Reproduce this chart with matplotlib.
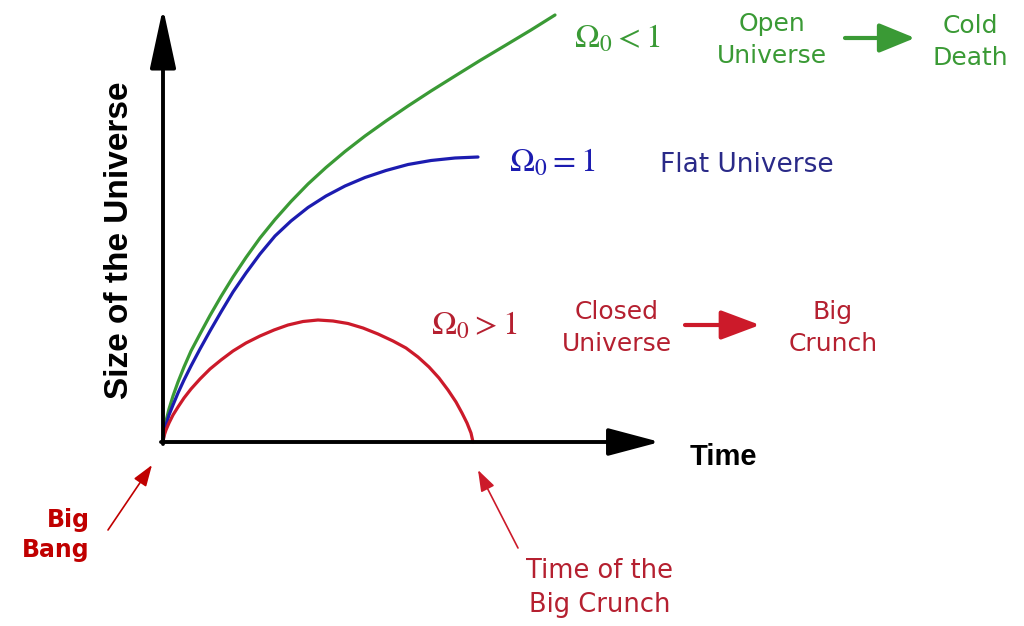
import numpy as np
import matplotlib
matplotlib.use('Agg')
import matplotlib.pyplot as plt

plt.rcParams['mathtext.fontset'] = 'stix'

green_t = [0, 1, 3, 6, 10, 15, 21, 28, 37, 47, 58, 70, 83, 97, 112, 128, 145, 163, 182, 202,
           223, 245, 268, 292, 317, 343, 368, 392]
green_s = [0, 10, 21, 33, 46, 60, 75, 91, 108, 126.5, 145.5, 165, 184.5, 204, 222.5, 240.5, 258,
           274.5, 290.5, 306, 321, 336, 351, 366, 381.5, 397, 412, 427]

blue_t = [0, 1, 3, 6, 10, 15, 21, 28, 37, 47, 58, 70, 83, 97, 112, 128, 145, 163, 182, 202,
          223, 245, 268, 292, 315]
blue_s = [0, 8, 17, 27, 37, 49, 62, 76, 93, 111, 130, 150, 169, 188, 206, 221, 234.5, 246, 256,
          264.5, 271.5, 277.5, 281.5, 284, 285]

red_t = [0, 1, 3, 6, 10, 15, 21, 28, 37, 47, 58, 70, 83, 97, 111, 125, 140, 155, 170, 185,
         200, 215, 230, 243, 255, 266, 276, 285, 293, 299, 304, 308, 310]
red_s = [0, 6, 12, 19, 27, 35, 44, 53, 63, 73, 82, 91, 99, 106, 112, 117, 120.5, 122, 121, 118.5,
         114, 108, 101, 94, 85, 75, 64, 52, 40, 29, 19, 9, 0]

green = '#3a9a35'
blue = '#1c1cb0'
red = '#cc1a2a'
red_txt = '#b52030'

fig = plt.figure(figsize=(10.24, 6.26), dpi=100)
ax = fig.add_axes([0, 0, 1, 1])
ax.set_xlim(-163, 861)
ax.set_ylim(-184, 442)
ax.axis('off')

ax.plot(green_t, green_s, color=green, lw=2.3, solid_capstyle='round', solid_joinstyle='round')
ax.plot(blue_t, blue_s, color=blue, lw=2.3, solid_capstyle='round', solid_joinstyle='round')
ax.plot(red_t, red_s, color=red, lw=2.3, solid_capstyle='round', solid_joinstyle='round')

# axes arrows
ax.annotate('', xy=(0, 434), xytext=(0, -2),
            arrowprops=dict(arrowstyle='-|>,head_length=3.7,head_width=0.8',
                            mutation_scale=10, lw=2.8, color='black',
                            shrinkA=0, shrinkB=0))
ax.annotate('', xy=(497, 0), xytext=(-2, 0),
            arrowprops=dict(arrowstyle='-|>,head_length=3.2,head_width=0.85',
                            mutation_scale=10, lw=2.8, color='black',
                            shrinkA=0, shrinkB=0))

ax.text(527, -15, 'Time', fontsize=21, fontweight='bold', family='Liberation Sans',
        ha='left', va='center')
ax.text(-43, 202, 'Size of the Universe', fontsize=24, fontweight='bold',
        family='Liberation Sans', rotation=90, ha='center', va='center')

# open universe
ax.text(411, 404, r'$\Omega_0 < 1$', fontsize=24, color=green, ha='left', va='center')
ax.text(609, 402, 'Open\nUniverse', fontsize=18, color=green, ha='center', va='center',
        linespacing=1.45)
ax.annotate('', xy=(752, 404), xytext=(682, 404),
            arrowprops=dict(arrowstyle='-|>,head_length=2.2,head_width=0.9',
                            mutation_scale=10, lw=3, color=green,
                            shrinkA=0, shrinkB=0))
ax.text(807, 400, 'Cold\nDeath', fontsize=18, color=green, ha='center', va='center',
        linespacing=1.45)

# flat universe
ax.text(346, 280, r'$\Omega_0 = 1$', fontsize=24, color=blue, ha='left', va='center')
ax.text(497, 277, 'Flat Universe', fontsize=19, color='#2a2a88', ha='left', va='center')

# closed universe
ax.text(268, 117, r'$\Omega_0 > 1$', fontsize=24, color=red_txt, ha='left', va='center')
ax.text(454, 114, 'Closed\nUniverse', fontsize=18, color=red_txt, ha='center', va='center',
        linespacing=1.45)
ax.annotate('', xy=(597, 117), xytext=(522, 117),
            arrowprops=dict(arrowstyle='-|>,head_length=2.4,head_width=0.9',
                            mutation_scale=10, lw=3, color=red,
                            shrinkA=0, shrinkB=0))
ax.text(670, 114, 'Big\nCrunch', fontsize=18, color=red_txt, ha='center', va='center',
        linespacing=1.45)

# big bang / big crunch pointers
ax.text(-73, -93, 'Big\nBang', fontsize=17, fontweight='bold', color='#c00000',
        ha='right', va='center', multialignment='right', linespacing=1.35)
ax.annotate('', xy=(-11, -23), xytext=(-55, -88),
            arrowprops=dict(arrowstyle='-|>,head_length=1.3,head_width=0.45',
                            mutation_scale=10, lw=1.2, color='#c00000',
                            shrinkA=0, shrinkB=0))
ax.text(437, -146, 'Time of the\nBig Crunch', fontsize=18.5, color=red_txt,
        ha='center', va='center', linespacing=1.4)
ax.annotate('', xy=(315, -28), xytext=(355, -106),
            arrowprops=dict(arrowstyle='-|>,head_length=1.3,head_width=0.45',
                            mutation_scale=10, lw=1.2, color=red,
                            shrinkA=0, shrinkB=0))

fig.savefig('out.png', dpi=100)
